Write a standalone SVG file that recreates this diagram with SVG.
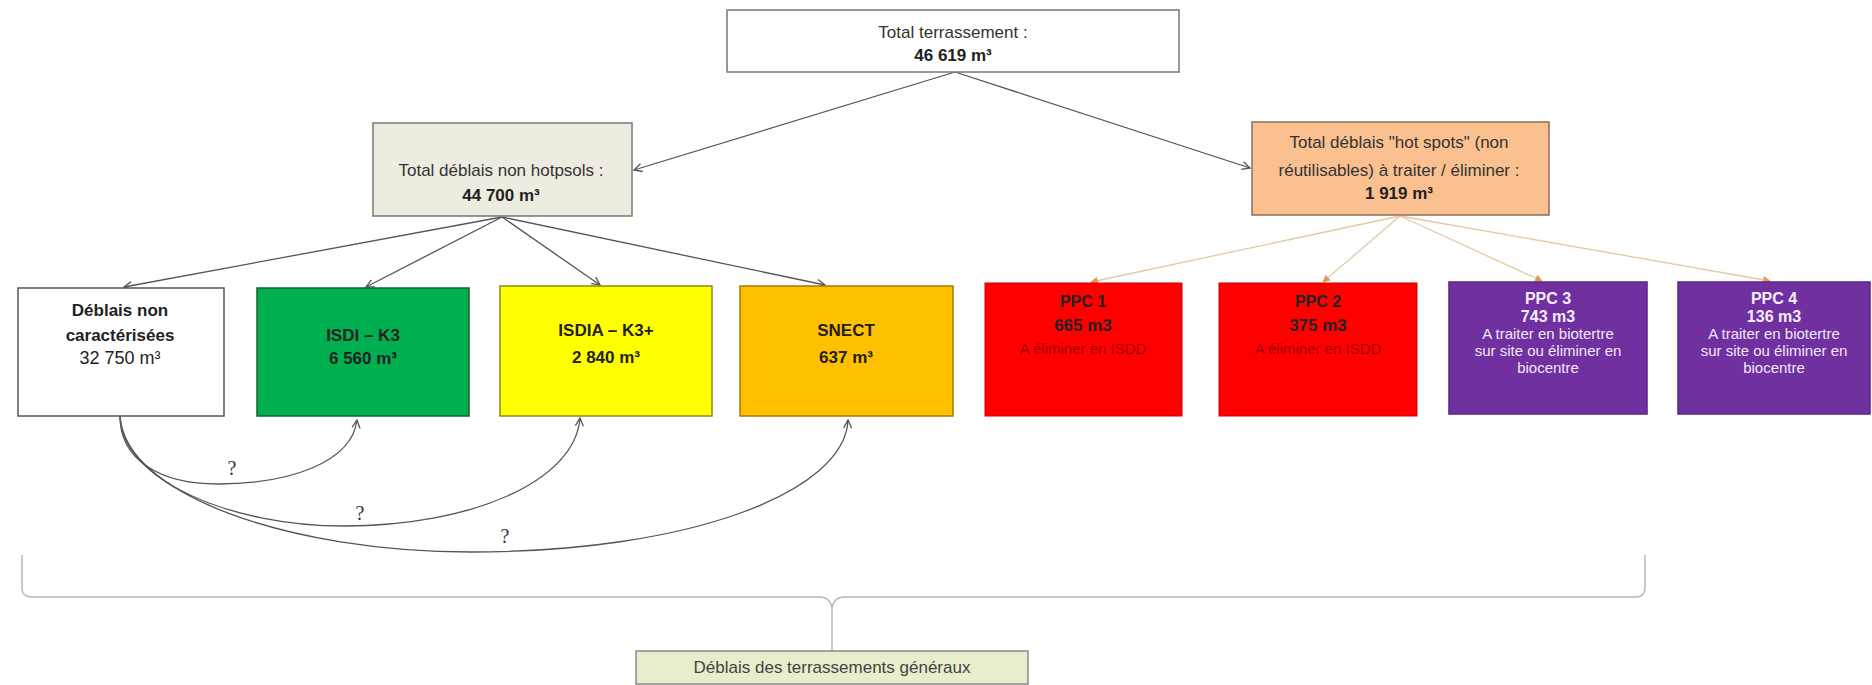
<svg xmlns="http://www.w3.org/2000/svg" width="1872" height="685" viewBox="0 0 1872 685">
<style>
text{font-family:"Liberation Sans",Arial,sans-serif;text-anchor:middle}
.r{font-size:17px;fill:#333}
.b{font-size:17px;font-weight:bold;fill:#222}
.s{font-size:15px;fill:#222}
.sb{font-size:16px;font-weight:bold;fill:#222}
.w{font-size:15px;fill:#f0e8f8}
.wb{font-size:16px;font-weight:bold;fill:#f4eefa}
.q{font-family:"Liberation Serif",serif;font-size:20px;fill:#333}
.con{fill:none;stroke:#555;stroke-width:1.3}
.tan{fill:none;stroke:#e3c9a4;stroke-width:1.3}
</style>
<defs>
<marker id="ah" viewBox="0 0 10 10" refX="9" refY="5" markerWidth="10" markerHeight="10" markerUnits="userSpaceOnUse" orient="auto">
<path d="M1,1 L9,5 L1,9" fill="none" stroke="#555" stroke-width="1.3"/>
</marker>
<marker id="ao" viewBox="0 0 10 10" refX="9" refY="5" markerWidth="8" markerHeight="8" markerUnits="userSpaceOnUse" orient="auto">
<path d="M1,1 L9,5 L1,9 z" fill="#e39a55" stroke="#e39a55" stroke-width="1"/>
</marker>
</defs>
<rect width="1872" height="685" fill="#fff"/>

<g id="connectors">
<line class="con" x1="955" y1="72" x2="634" y2="170" marker-end="url(#ah)"/>
<line class="con" x1="955" y1="72" x2="1250" y2="168" marker-end="url(#ah)"/>
<line class="con" x1="502" y1="217" x2="124" y2="287" marker-end="url(#ah)"/>
<line class="con" x1="502" y1="217" x2="366" y2="287" marker-end="url(#ah)"/>
<line class="con" x1="502" y1="217" x2="600" y2="285" marker-end="url(#ah)"/>
<line class="con" x1="502" y1="217" x2="825" y2="285" marker-end="url(#ah)"/>
<line class="tan" x1="1400" y1="216" x2="1091" y2="282" marker-end="url(#ao)"/>
<line class="tan" x1="1400" y1="216" x2="1323" y2="282" marker-end="url(#ao)"/>
<line class="tan" x1="1400" y1="216" x2="1542" y2="281" marker-end="url(#ao)"/>
<line class="tan" x1="1400" y1="216" x2="1770" y2="281" marker-end="url(#ao)"/>
<path class="con" d="M120,416 C120,460 160,484 218,484 C290,484 352,462 357,420" marker-end="url(#ah)"/>
<path class="con" d="M120,416 C122,480 230,526 344,526 C470,526 575,482 580,418" marker-end="url(#ah)"/>
<path class="con" d="M120,416 C125,495 290,552 471,552 C690,552 845,492 848,420" marker-end="url(#ah)"/>
<text class="q" x="232" y="475">?</text>
<text class="q" x="360" y="520">?</text>
<text class="q" x="505" y="543">?</text>
<path d="M22,555 L22,588 Q22,597 32,597 L820,597 Q830,597 832,608 Q834,597 844,597 L1635,597 Q1645,597 1645,588 L1645,555 M832,608 L832,651" fill="none" stroke="#b8b8b8" stroke-width="1.5"/>
</g>

<g id="total">
<rect x="727" y="10" width="452" height="62" fill="#fff" stroke="#777" stroke-width="1.5"/>
<text class="r" x="953" y="38">Total terrassement :</text>
<text class="b" x="953" y="61">46 619 m³</text>
</g>

<g id="non-hotspots">
<rect x="373" y="123" width="259" height="93" fill="#eeece1" stroke="#777" stroke-width="1.5"/>
<text class="r" x="501" y="176">Total déblais non hotpsols :</text>
<text class="b" x="501" y="201">44 700 m³</text>
</g>

<g id="hotspots">
<rect x="1252" y="122" width="297" height="93" fill="#fac090" stroke="#8a6e5a" stroke-width="1.5"/>
<text class="r" x="1399" y="148">Total déblais "hot spots" (non</text>
<text class="r" x="1399" y="176">réutilisables) à traiter / éliminer :</text>
<text class="b" x="1399" y="199">1 919 m³</text>
</g>

<g id="non-caracterises">
<rect x="18" y="288" width="206" height="128" fill="#fff" stroke="#555" stroke-width="1.5"/>
<text class="b" x="120" y="316">Déblais non</text>
<text class="b" x="120" y="341">caractérisées</text>
<text x="120" y="364" style="font-size:18px;fill:#222">32 750 m³</text>
</g>

<g id="isdi">
<rect x="257" y="288" width="212" height="128" fill="#00b050" stroke="#1d5e2e" stroke-width="1.5"/>
<text class="b" x="363" y="341">ISDI – K3</text>
<text class="b" x="363" y="364">6 560 m³</text>
</g>

<g id="isdia">
<rect x="500" y="286" width="212" height="130" fill="#ffff00" stroke="#8a8a20" stroke-width="1.5"/>
<text class="b" x="606" y="336">ISDIA – K3+</text>
<text class="b" x="606" y="363">2 840 m³</text>
</g>

<g id="snect">
<rect x="740" y="286" width="213" height="130" fill="#ffc000" stroke="#a07a10" stroke-width="1.5"/>
<text class="b" x="846" y="336">SNECT</text>
<text class="b" x="846" y="363">637 m³</text>
</g>

<g id="ppc1">
<rect x="985" y="283" width="197" height="133" fill="#ff0000" stroke="#d00000" stroke-width="1"/>
<text class="sb" x="1083" y="307">PPC 1</text>
<text class="b" x="1083" y="331">665 m3</text>
<text class="s" x="1083" y="354" style="fill:#a00000">A éliminer en ISDD</text>
</g>

<g id="ppc2">
<rect x="1219" y="283" width="198" height="133" fill="#ff0000" stroke="#d00000" stroke-width="1"/>
<text class="sb" x="1318" y="307">PPC 2</text>
<text class="b" x="1318" y="331">375 m3</text>
<text class="s" x="1318" y="354" style="fill:#a00000">A éliminer en ISDD</text>
</g>

<g id="ppc3">
<rect x="1449" y="282" width="198" height="132" fill="#7030a0" stroke="#5a2585" stroke-width="1.5"/>
<text class="wb" x="1548" y="304">PPC 3</text>
<text class="wb" x="1548" y="322">743 m3</text>
<text class="w" x="1548" y="339">A traiter en biotertre</text>
<text class="w" x="1548" y="356">sur site ou éliminer en</text>
<text class="w" x="1548" y="373">biocentre</text>
</g>

<g id="ppc4">
<rect x="1678" y="282" width="192" height="132" fill="#7030a0" stroke="#5a2585" stroke-width="1.5"/>
<text class="wb" x="1774" y="304">PPC 4</text>
<text class="wb" x="1774" y="322">136 m3</text>
<text class="w" x="1774" y="339">A traiter en biotertre</text>
<text class="w" x="1774" y="356">sur site ou éliminer en</text>
<text class="w" x="1774" y="373">biocentre</text>
</g>

<g id="deblais-generaux">
<rect x="636" y="651" width="392" height="33" fill="#e8edcc" stroke="#888" stroke-width="1.5"/>
<text class="r" x="832" y="673" style="fill:#444">Déblais des terrassements généraux</text>
</g>
</svg>
